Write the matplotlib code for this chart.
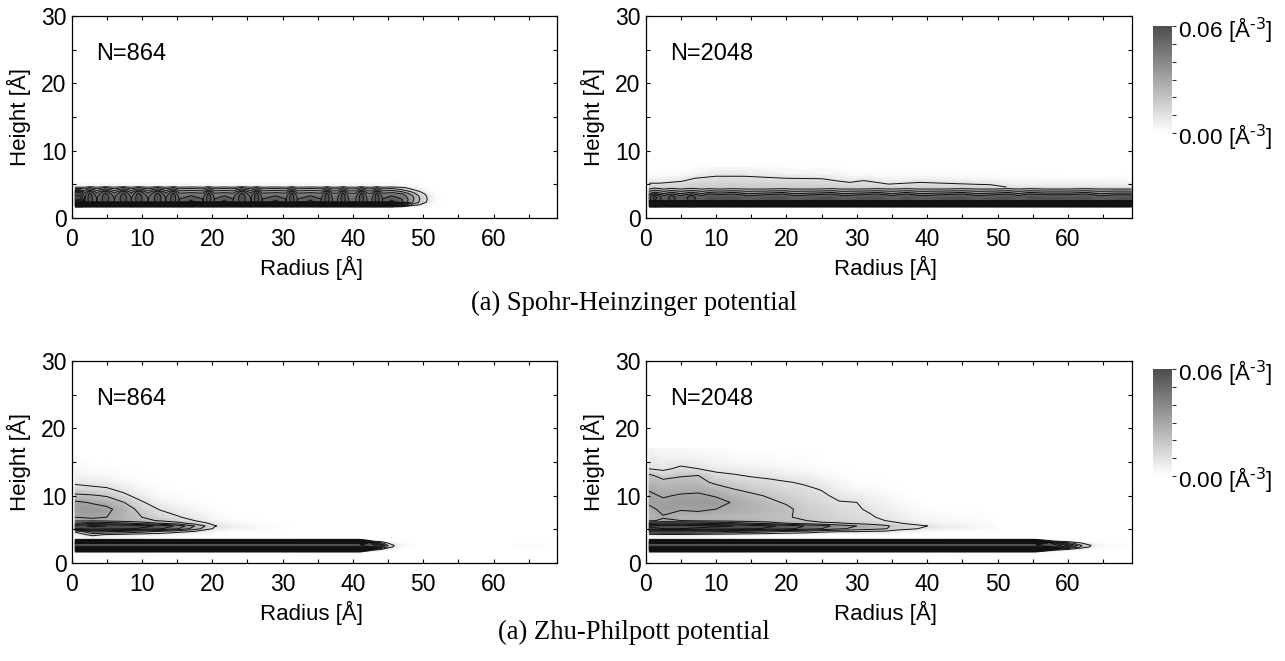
import numpy as np
import matplotlib
matplotlib.use("Agg")
import matplotlib.pyplot as plt
from matplotlib.colors import LinearSegmentedColormap
from matplotlib.cm import ScalarMappable
from matplotlib.colors import Normalize

plt.rcParams['font.family'] = ['Liberation Sans', 'DejaVu Sans']
plt.rcParams['mathtext.default'] = 'regular'

W, H = 1285, 661

x_label = 'Radius [Å]'
y_label = 'Height [Å]'
panel_names = ['N=864', 'N=2048', 'N=864', 'N=2048']
captions = ['(a) Spohr-Heinzinger potential', '(a) Zhu-Philpott potential']
x_ticks = [0, 10, 20, 30, 40, 50, 60]
y_ticks = [0, 10, 20, 30]
cbar_ticks = [0.0, 0.01, 0.02, 0.03, 0.04, 0.05, 0.06]
cbar_labels = ['0.00 [Å$^{\\text{-3}}$]', '', '', '', '', '', '0.06 [Å$^{\\text{-3}}$]']
contour_levels = [0.01, 0.02, 0.03, 0.04, 0.05, 0.06, 0.07, 0.08, 0.09, 0.10, 0.11, 0.12, 0.13, 0.14]

# Spohr-Heinzinger N=864: first layer, one vertical density profile per column type
sh864_heights = [1.6, 1.9, 2.3, 2.35, 2.8, 3.3, 3.6, 3.9, 4.2, 4.5, 4.7, 5.2]
sh864_profiles = {
    'X': [0, .10, .15, .10, .08, .07, .065, .055, .03, .014, .004, .001],
    'P': [0, .08, .12, .064, .066, .066, .063, .056, .038, .021, .006, .001],
    'E': [0, .08, .15, .05, .05, .047, .042, .034, .025, .014, .004, .001],
    'F': [0, .08, .15, .064, .058, .05, .045, .036, .027, .016, .005, .001],
    'a': [0, .04, .07, .05, .05, .045, .04, .03, .02, .012, .004, 0],
    'b': [0, .012, .03, .03, .032, .03, .025, .018, .0105, .006, .002, 0],
    'c': [0, .008, .018, .018, .02, .018, .014, .0105, .006, .003, .001, 0],
    'd': [0, .002, .008, .0095, .0105, .0095, .008, .004, .002, .001, 0, 0],
    'e': [0, 0, .002, .002, .002, .002, .001, .001, 0, 0, 0, 0],
    'z': [0, 0, 0, 0, 0, 0, 0, 0, 0, 0, 0, 0],
}
sh864_radii = [0.5, 1.2, 1.9, 2.6, 3.6, 4.8, 6.1, 7.4, 8.5, 9.5,
               10.9, 12.3, 13.4, 14.5, 15.3, 17, 18.7, 19.5, 20.3, 21.7,
               23, 24.2, 25.5, 26.3, 27.1, 29, 30.5, 31.3, 32.1, 34,
               35.5, 36.3, 37.1, 37.8, 38.6, 39.4, 40.4, 41.2, 42, 42.7,
               43.4, 44.2, 45.5, 47, 48.5, 49.5, 50.5, 51.5, 52.5]
sh864_kinds = ('XXEPEPEPEP'
               'EPEPEFEPEF'
               'EPEPEFEPEF'
               'EPEEPEEPEE'
               'PEFabcdez')

# Spohr-Heinzinger N=2048: first layer
sh2048_heights = [1.6, 1.9, 2.5, 2.55, 3.0, 3.3, 3.45, 3.7, 4.0, 4.3, 4.6]
sh2048_profiles = {
    'B': [0, .10, .15, .07, .075, .07, .062, .045, .034, .024, .016],
    'Q': [0, .09, .15, .062, .064, .062, .056, .045, .033, .022, .016],
    'P': [0, .08, .15, .0595, .0595, .058, .055, .044, .032, .021, .016],
    'F': [0, .08, .15, .059, .059, .054, .05, .04, .03, .02, .015],
    'N': [0, .08, .15, .055, .054, .05, .046, .037, .029, .02, .015],
}
sh2048_radii = [0.5, 1.3, 2.6, 3.7, 5, 6.5, 8, 9, 10.5, 12.5, 14.5, 17, 19.5, 21, 24, 26.5, 28, 30.5, 33, 35,
                37, 39, 42, 45, 47, 49.5, 51.5, 53, 54.5, 57, 60, 62.5, 64.5, 67, 69]
sh2048_kinds = 'NBNQNQNPFPNFPNFPNFPNPNFPNFPNPFFPNFF'

# Spohr-Heinzinger N=2048: faint second layer above the band
sh2048_top_heights = [4.6, 5.0, 5.5, 6.0, 6.5, 7.5]
sh2048_top_radii = [0.5, 2, 5, 7, 10, 14, 20, 25, 29, 31, 34.5, 39, 44, 49, 52, 69]
sh2048_top = [
    [.016, .0115, .007, .003, .001, 0],
    [.016, .0115, .007, .003, .001, 0],
    [.016, .013, .0095, .005, .002, 0],
    [.017, .015, .012, .0095, .004, .001],
    [.018, .016, .013, .011, .0085, .002],
    [.018, .016, .013, .011, .0085, .002],
    [.017, .015, .012, .0095, .004, .001],
    [.017, .015, .012, .009, .004, .001],
    [.016, .012, .0085, .004, .002, 0],
    [.016, .013, .0105, .005, .002, 0],
    [.014, .0103, .006, .003, .001, 0],
    [.016, .012, .0085, .004, .002, 0],
    [.015, .0108, .007, .003, .001, 0],
    [.013, .0095, .005, .002, .001, 0],
    [.009, .006, .003, .001, 0, 0],
    [.009, .006, .003, .001, 0, 0],
]

# Zhu-Philpott: first layer, sharp band, same shape in both sizes
zp_band_heights = [1.6, 1.9, 2.3, 2.35, 2.6, 2.95, 3.0, 3.3, 3.55]
zp_band_profiles = {
    'F': [0, .07, .15, .0595, .0595, .0595, .15, .07, 0],
    'A': [0, .05, .13, .06, .06, .10, .12, .04, 0],
    'B': [0, .01, .07, .06, .07, .05, .04, .005, 0],
    'C': [0, .002, .03, .035, .05, .025, .02, .002, 0],
    'D': [0, 0, .012, .016, .02, .01, .008, 0, 0],
    'E': [0, 0, .005, .008, .0105, .005, .004, 0, 0],
    'G': [0, 0, .002, .003, .004, .002, .001, 0, 0],
    'H': [0, 0, .001, .002, .002, .001, 0, 0, 0],
    'Z': [0, 0, 0, 0, 0, 0, 0, 0, 0],
}
zp864_radii = [0.5, 41, 41.2, 42.8, 44, 45, 45.8, 46.6, 47.5, 49, 62.5, 64, 66, 68]
zp864_kinds = 'FFABCDEGHZZHHZ'
zp2048_radii = [0.5, 55.4, 55.6, 58, 60, 62, 63.2, 64, 65, 67, 68.7]
zp2048_kinds = 'FFABCDEGHHZ'

# Zhu-Philpott N=864: upper layers, one column per radius
zp864_top_heights = [3.7, 4.2, 4.7, 5.1, 5.5, 5.9, 6.3, 6.8, 8, 9, 10, 11, 12, 13, 15]
zp864_top_radii = [0.5, 3, 5, 7.5, 10, 12.5, 15, 17.5, 20.4, 23, 27, 31]
zp864_top = [
    [0, .004, .012, .06, .066, .04, .028, .03, .033, .032, .022, .014, .008, .004, .001],
    [.003, .013, .035, .066, .072, .048, .028, .031, .034, .029, .021, .012, .007, .003, 0],
    [.001, .009, .032, .064, .07, .046, .027, .03, .032, .027, .019, .011, .006, .002, 0],
    [0, .007, .03, .062, .068, .042, .025, .025, .026, .02, .012, .007, .003, .001, 0],
    [0, .005, .025, .058, .064, .036, .023, .02, .016, .011, .006, .003, .001, 0, 0],
    [0, .004, .02, .052, .058, .03, .019, .015, .0095, .005, .002, .001, 0, 0, 0],
    [0, .002, .014, .042, .048, .024, .015, .011, .006, .003, .001, 0, 0, 0, 0],
    [0, 0, .01, .025, .03, .016, .01, .007, .003, .001, 0, 0, 0, 0, 0],
    [0, 0, .003, .008, .0105, .007, .004, .002, .001, 0, 0, 0, 0, 0, 0],
    [0, 0, 0, .004, .005, .003, .001, 0, 0, 0, 0, 0, 0, 0, 0],
    [0, 0, 0, .001, .002, .001, 0, 0, 0, 0, 0, 0, 0, 0, 0],
    [0, 0, 0, 0, 0, 0, 0, 0, 0, 0, 0, 0, 0, 0, 0],
]

# Zhu-Philpott N=2048: upper layers
zp2048_top_heights = [3.7, 4.2, 4.7, 5.1, 5.5, 5.9, 6.3, 6.8, 8, 9, 10, 11, 12, 13, 14, 15, 17]
zp2048_top_radii = [0.5, 2.5, 5, 7.5, 10, 12.5, 15, 17.5, 20, 22.5, 25, 27.5, 30, 32, 34, 36, 38, 39.7, 42, 46, 50]
zp2048_top = [
    [0, .007, .035, .066, .072, .05, .028, .024, .027, .032, .032, .029, .024, .022, .010, .008, .003],
    [.001, .008, .036, .07, .075, .052, .032, .029, .033, .032, .029, .026, .023, .016, .008, .006, .002],
    [.001, .008, .036, .07, .075, .052, .03, .025, .031, .034, .031, .027, .024, .019, .012, .007, .002],
    [.001, .007, .035, .068, .074, .05, .028, .025, .032, .034, .032, .027, .023, .02, .01, .006, .001],
    [0, .006, .033, .066, .072, .048, .027, .025, .03, .034, .029, .024, .018, .013, .007, .004, .001],
    [0, .005, .03, .064, .07, .045, .026, .024, .028, .029, .025, .02, .016, .011, .006, .003, 0],
    [0, .004, .027, .062, .066, .04, .025, .023, .026, .025, .022, .017, .014, .009, .005, .002, 0],
    [0, .003, .024, .058, .062, .036, .023, .022, .024, .022, .019, .015, .012, .008, .004, .002, 0],
    [0, .002, .02, .053, .057, .03, .021, .021, .022, .019, .016, .013, .0105, .006, .003, .001, 0],
    [0, .001, .018, .047, .05, .026, .0205, .018, .017, .015, .013, .0115, .009, .005, .002, .001, 0],
    [0, .001, .013, .04, .045, .022, .017, .016, .015, .013, .0115, .0095, .006, .003, .001, 0, 0],
    [0, 0, .011, .032, .035, .021, .015, .014, .012, .0105, .008, .005, .003, .001, 0, 0, 0],
    [0, 0, .011, .027, .03, .018, .013, .012, .011, .01, .006, .003, .001, 0, 0, 0, 0],
    [0, 0, .01, .024, .026, .016, .012, .011, .0085, .006, .004, .002, .001, 0, 0, 0, 0],
    [0, 0, .009, .021, .022, .014, .01, .008, .006, .004, .003, .001, 0, 0, 0, 0, 0],
    [0, 0, .005, .014, .016, .0105, .008, .006, .004, .002, .001, 0, 0, 0, 0, 0, 0],
    [0, 0, .004, .011, .0125, .008, .005, .004, .002, .001, 0, 0, 0, 0, 0, 0, 0],
    [0, 0, .002, .0085, .0105, .006, .004, .003, .001, 0, 0, 0, 0, 0, 0, 0, 0],
    [0, 0, 0, .005, .007, .004, .003, .002, 0, 0, 0, 0, 0, 0, 0, 0, 0],
    [0, 0, 0, .003, .004, .003, .002, .001, 0, 0, 0, 0, 0, 0, 0, 0, 0],
    [0, 0, 0, .001, .001, 0, 0, 0, 0, 0, 0, 0, 0, 0, 0, 0, 0],
]

cmap = LinearSegmentedColormap.from_list('dens', ['#ffffff', '#4d4d4d'])


def px_axes(fig, left, top, right, bottom):
    return fig.add_axes([left / W, 1 - bottom / H, (right - left) / W, (bottom - top) / H])


def columns_from_kinds(kinds, profiles):
    return [profiles[k] for k in kinds]


def draw_layer(ax, radii, heights, columns):
    table = np.array(columns, dtype=float).T
    ax.pcolormesh(radii, heights, table, shading='gouraud', cmap=cmap, vmin=0, vmax=0.06)
    ax.contour(radii, heights, table, levels=contour_levels, colors='#111111', linewidths=0.7)


def style_panel(ax, name):
    ax.set_xlim(0, 69)
    ax.set_ylim(0, 30)
    ax.set_xticks(x_ticks)
    ax.set_yticks(y_ticks)
    ax.set_xticks(np.arange(5, 69, 10), minor=True)
    ax.set_yticks([5, 15, 25], minor=True)
    ax.tick_params(which='both', direction='in', top=True, right=True, length=3.2, width=0.8, labelsize=16.5)
    ax.tick_params(axis='x', which='both', pad=7)
    ax.tick_params(axis='y', which='both', pad=3.5)
    ax.set_xlabel(x_label, fontsize=16, va='center')
    ax.set_ylabel(y_label, fontsize=16, va='center')
    ax.xaxis.set_label_coords(0.494, -0.2475)
    ax.yaxis.set_label_coords(-0.109, 0.5)
    ax.text(3.5, 24.4, name, fontsize=17, va='center')
    for s in ax.spines.values():
        s.set_linewidth(0.9)


fig = plt.figure(figsize=(W / 100, H / 100), dpi=100)

ax_a = px_axes(fig, 71.5, 16, 557, 218)
ax_b = px_axes(fig, 645.5, 16, 1131.5, 218)
ax_c = px_axes(fig, 71.5, 361, 557, 563)
ax_d = px_axes(fig, 645.5, 361, 1131.5, 563)

draw_layer(ax_a, sh864_radii, sh864_heights, columns_from_kinds(sh864_kinds, sh864_profiles))
draw_layer(ax_b, sh2048_radii, sh2048_heights, columns_from_kinds(sh2048_kinds, sh2048_profiles))
draw_layer(ax_b, sh2048_top_radii, sh2048_top_heights, sh2048_top)
draw_layer(ax_c, zp864_radii, zp_band_heights, columns_from_kinds(zp864_kinds, zp_band_profiles))
draw_layer(ax_c, zp864_top_radii, zp864_top_heights, zp864_top)
draw_layer(ax_d, zp2048_radii, zp_band_heights, columns_from_kinds(zp2048_kinds, zp_band_profiles))
draw_layer(ax_d, zp2048_top_radii, zp2048_top_heights, zp2048_top)

for ax, name in zip([ax_a, ax_b, ax_c, ax_d], panel_names):
    style_panel(ax, name)

# colour bars next to the right-hand panels
for top, bottom in [(26, 133), (369, 476)]:
    cax = px_axes(fig, 1153, top, 1172, bottom)
    cb = fig.colorbar(ScalarMappable(Normalize(0, 0.06), cmap), cax=cax, ticks=cbar_ticks)
    cb.outline.set_visible(False)
    cb.ax.set_yticklabels(cbar_labels)
    cb.ax.tick_params(length=3.2, width=0.8, labelsize=16.2, pad=1, color='#333333')

fig.text(634 / W, 1 - 303 / H, captions[0], fontsize=19.2, family='Liberation Serif', ha='center', va='center')
fig.text(634 / W, 1 - 632 / H, captions[1], fontsize=19.2, family='Liberation Serif', ha='center', va='center')

fig.savefig('out.png', dpi=100)
